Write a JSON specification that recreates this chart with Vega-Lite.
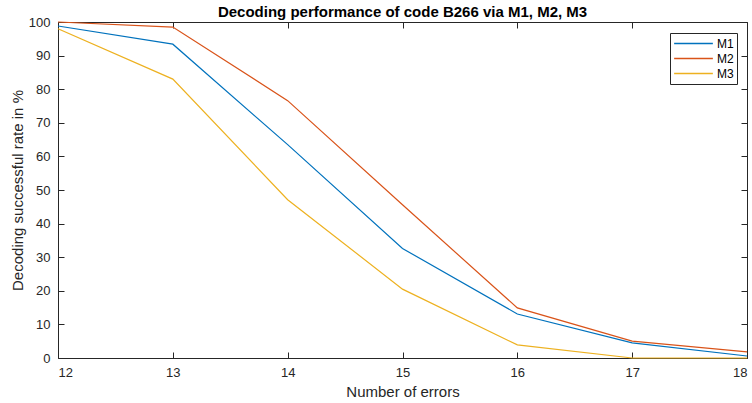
{
  "$schema": "https://vega.github.io/schema/vega-lite/v6.json",
  "autosize": "none",
  "width": 689,
  "height": 336,
  "padding": {"left": 58, "top": 22, "right": 5, "bottom": 45},
  "background": "white",
  "config": {
    "font": "Liberation Sans",
    "view": {"stroke": "#262626", "strokeWidth": 1},
    "axis": {"grid": false, "domain": false, "tickColor": "#262626", "labelColor": "#262626", "titleColor": "#262626", "labelFontSize": 13, "titleFontSize": 15, "titleFontWeight": "normal", "tickSize": -6, "labelPadding": 14}
  },
  "title": {"text": "Decoding performance of code B266 via M1, M2, M3", "fontSize": 15, "fontWeight": "bold", "color": "#000", "offset": -4, "anchor": "middle"},
  "data": {"values": [
    {"errors": 12, "rate": 98.8, "method": "M1"},
    {"errors": 13, "rate": 93.4, "method": "M1"},
    {"errors": 14, "rate": 63.5, "method": "M1"},
    {"errors": 15, "rate": 32.6, "method": "M1"},
    {"errors": 16, "rate": 13.1, "method": "M1"},
    {"errors": 17, "rate": 4.5, "method": "M1"},
    {"errors": 18, "rate": 0.6, "method": "M1"},
    {"errors": 12, "rate": 100, "method": "M2"},
    {"errors": 13, "rate": 98.5, "method": "M2"},
    {"errors": 14, "rate": 76.6, "method": "M2"},
    {"errors": 15, "rate": 45.6, "method": "M2"},
    {"errors": 16, "rate": 14.9, "method": "M2"},
    {"errors": 17, "rate": 5.0, "method": "M2"},
    {"errors": 18, "rate": 1.8, "method": "M2"},
    {"errors": 12, "rate": 98.0, "method": "M3"},
    {"errors": 13, "rate": 83.0, "method": "M3"},
    {"errors": 14, "rate": 47.1, "method": "M3"},
    {"errors": 15, "rate": 20.5, "method": "M3"},
    {"errors": 16, "rate": 3.9, "method": "M3"},
    {"errors": 17, "rate": 0, "method": "M3"},
    {"errors": 18, "rate": 0, "method": "M3"}
  ]},
  "resolve": {"axis": {"x": "independent", "y": "independent"}},
  "layer": [
    {
      "mark": {"type": "line", "strokeWidth": 1.2},
      "encoding": {
        "x": {"field": "errors", "type": "quantitative", "scale": {"domain": [12, 18], "nice": false, "zero": false}, "axis": {"title": "Number of errors", "values": [12, 13, 14, 15, 16, 17, 18], "format": "d", "titlePadding": 5}},
        "y": {"field": "rate", "type": "quantitative", "scale": {"domain": [0, 100], "nice": false}, "axis": {"title": "Decoding successful rate in %", "values": [0, 10, 20, 30, 40, 50, 60, 70, 80, 90, 100], "titlePadding": 3}},
        "color": {"field": "method", "type": "nominal", "scale": {"domain": ["M1", "M2", "M3"], "range": ["#0072BD", "#D95319", "#EDB120"]},
          "legend": {"orient": "none", "legendX": 612, "legendY": 11, "title": null, "symbolType": "stroke", "symbolSize": 1500, "symbolStrokeWidth": 1.5, "clipHeight": 15, "rowPadding": 0, "strokeColor": "#262626", "fillColor": "white", "padding": 3, "labelFontSize": 12, "labelColor": "#000", "labelOffset": 3}}
      }
    },
    {
      "mark": {"type": "line", "opacity": 0},
      "encoding": {
        "x": {"field": "errors", "type": "quantitative", "axis": {"orient": "top", "title": null, "labels": false, "values": [12, 13, 14, 15, 16, 17, 18]}},
        "y": {"field": "rate", "type": "quantitative", "axis": {"orient": "right", "title": null, "labels": false, "values": [0, 10, 20, 30, 40, 50, 60, 70, 80, 90, 100]}},
        "detail": {"field": "method"}
      }
    }
  ]
}
